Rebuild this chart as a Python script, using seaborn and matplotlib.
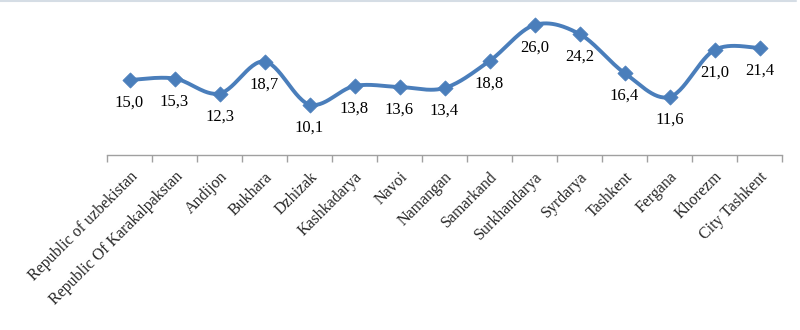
import numpy as np
import pandas as pd
import matplotlib
matplotlib.use("Agg")
import matplotlib.pyplot as plt
import seaborn as sns

regions = [
    "Republic of uzbekistan", "Republic Of Karakalpakstan", "Andijon", "Bukhara",
    "Dzhizak", "Kashkadarya", "Navoi", "Namangan", "Samarkand", "Surkhandarya",
    "Syrdarya", "Tashkent", "Fergana", "Khorezm", "City Tashkent",
]
values = [15.0, 15.3, 12.3, 18.7, 10.1, 13.8, 13.6, 13.4, 18.8, 26.0, 24.2, 16.4, 11.6, 21.0, 21.4]

LINE_COLOR = "#4A7EBB"
FONT = ["Liberation Serif", "DejaVu Serif"]

sns.set_theme(style="white")
plt.rcParams["font.family"] = FONT


def smooth_curve(y, steps=30):
    """Catmull-Rom style smoothing through every point (Bezier form)."""
    y = np.asarray(y, dtype=float)
    x = np.arange(len(y), dtype=float)
    px = np.concatenate([[x[0]], x, [x[-1]]])
    py = np.concatenate([[y[0]], y, [y[-1]]])
    xs, ys = [], []
    t = np.linspace(0, 1, steps, endpoint=False)
    for i in range(1, len(px) - 2):
        p0 = np.array([px[i], py[i]])
        p3 = np.array([px[i + 1], py[i + 1]])
        c1 = p0 + (np.array([px[i + 1], py[i + 1]]) - np.array([px[i - 1], py[i - 1]])) / 6
        c2 = p3 - (np.array([px[i + 2], py[i + 2]]) - np.array([px[i], py[i]])) / 6
        b = ((1 - t) ** 3)[:, None] * p0 + (3 * (1 - t) ** 2 * t)[:, None] * c1 \
            + (3 * (1 - t) * t ** 2)[:, None] * c2 + (t ** 3)[:, None] * p3
        xs.append(b[:, 0])
        ys.append(b[:, 1])
    xs.append([x[-1]])
    ys.append([y[-1]])
    return np.concatenate(xs), np.concatenate(ys)


df = pd.DataFrame({"pos": np.arange(len(regions)), "value": values})
cx, cy = smooth_curve(values)
curve = pd.DataFrame({"pos": cx, "value": cy})

fig = plt.figure(figsize=(8, 3.3), dpi=100)
ax = fig.add_axes([107 / 800, 1 - 155 / 330, (782 - 107) / 800, 150 / 330])

sns.lineplot(data=curve, x="pos", y="value", ax=ax, color=LINE_COLOR,
             linewidth=2.8, sort=False, estimator=None)
sns.scatterplot(data=df, x="pos", y="value", ax=ax, color=LINE_COLOR,
                marker="D", s=60, edgecolor=LINE_COLOR, linewidth=0.5, zorder=3)

for i, v in enumerate(values):
    ax.annotate(f"{v:.1f}".replace(".", ","), (i, v), xytext=(0, -16.5),
                textcoords="offset points", ha="center", va="center",
                fontsize=12, color="black", family=FONT)

ax.set_xlim(-0.5, len(regions) - 0.5)
ax.set_ylim(0, 30)
ax.set_xlabel("")
ax.set_ylabel("")
ax.set_yticks([])

ax.set_xticks(np.arange(len(regions)))
ax.set_xticklabels(regions, rotation=45, ha="right", va="top",
                   rotation_mode="anchor", fontsize=11.5, family=FONT)
ax.set_xticks(np.arange(len(regions) + 1) - 0.5, minor=True)
ax.tick_params(axis="x", which="major", length=0, pad=10)
ax.tick_params(axis="x", which="minor", length=5, width=1, color="#A0A0A0",
               direction="out", bottom=True)
for lbl in ax.get_xticklabels():
    lbl.set_x(lbl.get_position()[0] + 0.12)

for side in ("top", "right", "left"):
    ax.spines[side].set_visible(False)
ax.spines["bottom"].set_color("#A0A0A0")
ax.spines["bottom"].set_linewidth(1)

# thin frame line along the top of the chart area
fig.add_artist(plt.Line2D([0, 0.995], [0.997, 0.997], transform=fig.transFigure,
                          color="#D5DDE5", linewidth=1.5))

fig.savefig("out.png", dpi=100)
